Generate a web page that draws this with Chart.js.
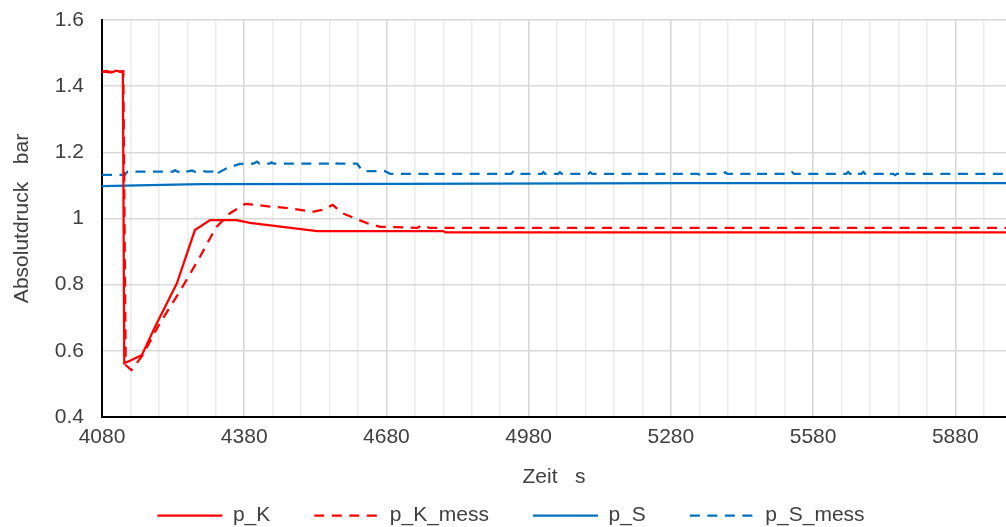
<!DOCTYPE html>
<html><head><meta charset="utf-8">
<script src="https://cdn.jsdelivr.net/npm/chart.js@4.4.1/dist/chart.umd.min.js"></script>
<style>html,body{margin:0;padding:0;background:#fff;overflow:hidden}#wrap{width:1006px;height:527px;position:relative}</style>
</head><body><div id="wrap"><canvas id="c" width="1006" height="527"></canvas></div>
<script>
// ---- data ----
const xMin = 4080, xMax = 5987;
const majorTicks = [4080, 4380, 4680, 4980, 5280, 5580, 5880];
const yTickLabels = ['0.4', '0.6', '0.8', '1', '1.2', '1.4', '1.6'];
const seriesNames = ['p_K', 'p_K_mess', 'p_S', 'p_S_mess'];

const pK_t = [4080, 4090, 4100, 4110, 4118, 4124, 4127, 4139, 4164, 4192, 4238, 4276, 4308, 4364, 4392, 4534, 4800, 4805, 5987];
const pK_v = [1.443, 1.446, 1.441, 1.447, 1.444, 1.445, 0.563, 0.570, 0.587, 0.673, 0.804, 0.965, 0.995, 0.995, 0.987, 0.962, 0.962, 0.958, 0.958];

const pKm_t = [4080, 4095, 4105, 4115, 4125, 4130, 4142, 4166, 4198, 4248, 4287, 4314, 4322, 4350, 4382, 4407, 4434, 4462, 4498, 4523, 4544, 4567, 4586, 4614, 4639, 4667, 4702, 4745, 4757, 4770, 5987];
const pKm_v = [1.445, 1.442, 1.448, 1.443, 1.445, 0.557, 0.542, 0.587, 0.673, 0.789, 0.885, 0.956, 0.975, 1.016, 1.044, 1.041, 1.036, 1.033, 1.026, 1.020, 1.026, 1.041, 1.017, 1.000, 0.986, 0.975, 0.974, 0.972, 0.980, 0.972, 0.972];

const pS_t = [4080, 4180, 4290, 4700, 5300, 5987];
const pS_v = [1.098, 1.101, 1.104, 1.105, 1.107, 1.107];

const pSm_t = [4080, 4128, 4134, 4230, 4234, 4240, 4251, 4256, 4270, 4276, 4287, 4300, 4314, 4318, 4325, 4344, 4371, 4400, 4407, 4412, 4434, 4438, 4442, 4560, 4567, 4575, 4618, 4630, 4677, 4688,
  4768, 4772, 4776, 4943, 4947, 4951, 5008, 5011, 5015, 5042, 5046, 5050, 5106, 5110, 5114, 5196, 5200, 5204,
  5338, 5342, 5346, 5391, 5395, 5399, 5448, 5452, 5456, 5532, 5536, 5540, 5650, 5654, 5658, 5669, 5673, 5677, 5682, 5686, 5690, 5732, 5736, 5740, 5749, 5753, 5757, 5770, 5774, 5778, 5987];
const pSm_v = [1.132, 1.132, 1.142, 1.142, 1.146, 1.141, 1.146, 1.141, 1.145, 1.141, 1.144, 1.142, 1.142, 1.131, 1.138, 1.153, 1.165, 1.166, 1.172, 1.166, 1.166, 1.170, 1.166, 1.166, 1.172, 1.166, 1.166, 1.143, 1.143, 1.135,
  1.135, 1.140, 1.135, 1.135, 1.141, 1.135, 1.135, 1.140, 1.135, 1.135, 1.140, 1.135, 1.135, 1.140, 1.135, 1.135, 1.130, 1.135,
  1.135, 1.130, 1.135, 1.135, 1.140, 1.135, 1.135, 1.139, 1.135, 1.135, 1.140, 1.135, 1.135, 1.141, 1.135, 1.135, 1.140, 1.135, 1.135, 1.141, 1.135, 1.135, 1.140, 1.135, 1.135, 1.131, 1.135, 1.135, 1.140, 1.135, 1.135];

// ---- chart ----
const pts = (t, v) => t.map((x, i) => ({x: x, y: v[i]}));
const RED = '#FF0000', BLUE = '#0070C0', TXT = '#404040';
const DASH = [10, 7.5];

Chart.defaults.font.family = "'Liberation Sans', Arial, sans-serif";
Chart.defaults.font.size = 21;
Chart.defaults.color = TXT;

const baseLabels = Chart.defaults.plugins.legend.labels.generateLabels;

new Chart(document.getElementById('c'), {
  type: 'line',
  data: {
    datasets: [
      {label: seriesNames[0], data: pts(pK_t, pK_v), borderColor: RED, backgroundColor: RED, borderWidth: 2.25},
      {label: seriesNames[1], data: pts(pKm_t, pKm_v), borderColor: RED, backgroundColor: RED, borderWidth: 2.25, borderDash: DASH},
      {label: seriesNames[2], data: pts(pS_t, pS_v), borderColor: BLUE, backgroundColor: BLUE, borderWidth: 2.25},
      {label: seriesNames[3], data: pts(pSm_t, pSm_v), borderColor: BLUE, backgroundColor: BLUE, borderWidth: 2.25, borderDash: DASH}
    ]
  },
  options: {
    responsive: false,
    animation: false,
    devicePixelRatio: 1,
    elements: {point: {radius: 0, hoverRadius: 0}, line: {tension: 0, borderCapStyle: 'butt'}},
    layout: {padding: {left: 16, right: 0, top: 20, bottom: 0}},
    plugins: {
      tooltip: {enabled: false},
      legend: {
        position: 'bottom',
        maxHeight: 66,
        labels: {
          usePointStyle: true, pointStyle: 'line', pointStyleWidth: 65, padding: 44, color: TXT, font: {size: 21},
          generateLabels: chart => baseLabels(chart).map(it => {
            const ds = chart.data.datasets[it.datasetIndex];
            it.lineDash = ds.borderDash || [];
            it.lineWidth = ds.borderWidth;
            it.strokeStyle = ds.borderColor;
            it.lineCap = 'butt';
            return it;
          })
        }
      }
    },
    scales: {
      x: {
        type: 'linear', min: xMin, max: xMax,
        ticks: {stepSize: 60, includeBounds: false, autoSkip: false, maxRotation: 0, padding: 8, color: TXT,
          callback: v => majorTicks.includes(v) ? String(v) : ''},
        grid: {drawTicks: false, lineWidth: 1.5,
          color: c => (c.tick && majorTicks.includes(c.tick.value)) ? '#d6d6d6' : '#ececec'},
        border: {color: '#000', width: 2},
        title: {display: true, text: 'Zeit   s', color: TXT, font: {size: 21}, padding: {top: 0, bottom: -28.6}},
        afterFit: s => { s.height = 44; }
      },
      y: {
        min: 0.4, max: 1.6,
        ticks: {stepSize: 0.2, padding: 18, color: TXT,
          callback: v => yTickLabels[Math.round((v - 0.4) / 0.2)]},
        grid: {drawTicks: false, lineWidth: 1.5, color: '#d9d9d9'},
        border: {color: '#000', width: 2},
        title: {display: true, text: 'Absolutdruck   bar', color: TXT, font: {size: 21}, padding: {top: -6.6, bottom: 0}},
        afterFit: s => { s.width = 86; s.paddingTop = 0; s.paddingBottom = 0; }
      }
    }
  }
});
</script></body></html>
